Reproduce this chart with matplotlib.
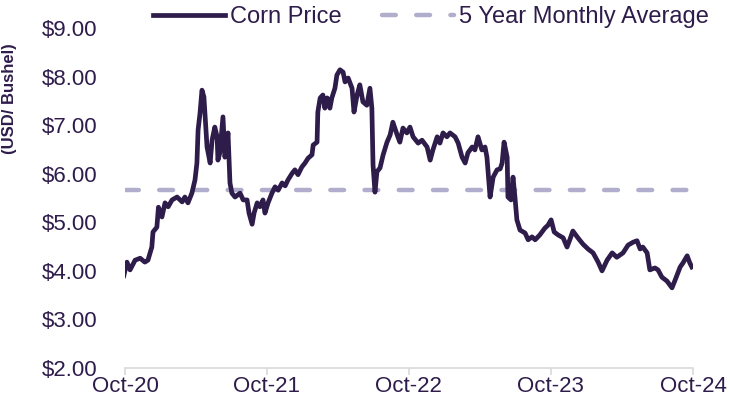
import matplotlib
matplotlib.use("Agg")
import matplotlib.pyplot as plt
import matplotlib.dates as mdates
import pandas as pd

# corn price (USD per bushel)
dates = [
    "2020-09-28", "2020-10-06", "2020-10-14", "2020-10-27", "2020-11-09", "2020-11-21", "2020-11-29",
    "2020-12-09", "2020-12-12", "2020-12-22", "2020-12-26", "2021-01-04", "2021-01-12", "2021-01-20",
    "2021-01-30", "2021-02-12", "2021-02-25", "2021-03-04", "2021-03-12", "2021-03-22", "2021-03-30",
    "2021-04-04", "2021-04-07", "2021-04-12", "2021-04-17", "2021-04-22", "2021-04-30", "2021-05-08",
    "2021-05-13", "2021-05-20", "2021-05-26", "2021-05-28", "2021-06-02", "2021-06-10", "2021-06-15",
    "2021-06-23", "2021-06-28", "2021-07-03", "2021-07-11", "2021-07-24", "2021-08-01", "2021-08-11",
    "2021-08-16", "2021-08-24", "2021-08-29", "2021-09-06", "2021-09-13", "2021-09-21", "2021-09-26",
    "2021-10-04", "2021-10-14", "2021-10-22", "2021-10-30", "2021-11-09", "2021-11-17", "2021-11-24",
    "2021-12-05", "2021-12-12", "2021-12-20", "2021-12-30", "2022-01-07", "2022-01-15", "2022-01-25",
    "2022-01-28", "2022-02-07", "2022-02-09", "2022-02-15", "2022-02-22", "2022-02-27", "2022-03-05",
    "2022-03-12", "2022-03-17", "2022-03-25", "2022-03-30", "2022-04-07", "2022-04-15", "2022-04-20",
    "2022-04-28", "2022-05-08", "2022-05-13", "2022-05-21", "2022-05-28", "2022-06-05", "2022-06-15",
    "2022-06-23", "2022-06-28", "2022-07-01", "2022-07-06", "2022-07-11", "2022-07-19", "2022-07-27",
    "2022-08-06", "2022-08-14", "2022-08-21", "2022-09-01", "2022-09-08", "2022-09-16", "2022-09-26",
    "2022-10-04", "2022-10-12", "2022-10-25", "2022-11-04", "2022-11-17", "2022-11-25", "2022-12-02",
    "2022-12-13", "2022-12-20", "2022-12-28", "2023-01-07", "2023-01-15", "2023-01-28", "2023-02-05",
    "2023-02-15", "2023-02-23", "2023-03-02", "2023-03-13", "2023-03-20", "2023-03-28", "2023-04-07",
    "2023-04-15", "2023-04-20", "2023-04-28", "2023-05-06", "2023-05-16", "2023-05-24", "2023-05-29",
    "2023-06-03", "2023-06-11", "2023-06-13", "2023-06-21", "2023-06-26", "2023-07-01", "2023-07-06",
    "2023-07-14", "2023-07-27", "2023-08-04", "2023-08-14", "2023-08-22", "2023-09-03", "2023-09-16",
    "2023-09-24", "2023-10-02", "2023-10-10", "2023-10-20", "2023-11-02", "2023-11-12", "2023-11-20",
    "2023-11-27", "2023-12-10", "2023-12-23", "2024-01-05", "2024-01-18", "2024-01-31", "2024-02-10",
    "2024-02-23", "2024-03-07", "2024-03-19", "2024-04-04", "2024-04-17", "2024-04-30", "2024-05-10",
    "2024-05-18", "2024-05-25", "2024-06-05", "2024-06-12", "2024-06-25", "2024-07-03", "2024-07-13",
    "2024-07-26", "2024-08-08", "2024-08-16", "2024-08-29", "2024-09-05", "2024-09-16", "2024-09-23",
    "2024-09-28",
]
price = [
    3.90, 4.18, 4.02, 4.22, 4.26, 4.18, 4.22,
    4.49, 4.80, 4.90, 5.31, 5.11, 5.40, 5.32,
    5.46, 5.52, 5.42, 5.52, 5.40, 5.60, 5.87,
    6.22, 6.90, 7.25, 7.72, 7.58, 6.55, 6.22,
    6.69, 6.96, 6.76, 6.28, 6.43, 7.17, 6.34,
    6.84, 5.81, 5.60, 5.52, 5.60, 5.46, 5.46,
    5.19, 4.96, 5.19, 5.40, 5.32, 5.46, 5.19,
    5.40, 5.60, 5.73, 5.66, 5.81, 5.75, 5.87,
    6.01, 6.08, 5.98, 6.14, 6.22, 6.32, 6.39,
    6.59, 6.65, 7.27, 7.56, 7.62, 7.35, 7.56,
    7.35, 7.56, 7.76, 8.03, 8.14, 8.09, 7.89,
    7.97, 7.76, 7.27, 7.62, 7.83, 7.48, 7.41,
    7.76, 7.35, 6.18, 5.62, 6.04, 6.12, 6.39,
    6.65, 6.80, 7.06, 6.80, 6.65, 6.94, 6.84,
    6.96, 6.76, 6.63, 6.69, 6.55, 6.28, 6.49,
    6.76, 6.63, 6.84, 6.76, 6.84, 6.76, 6.63,
    6.34, 6.22, 6.43, 6.55, 6.49, 6.76, 6.49,
    6.55, 6.34, 5.52, 5.93, 6.08, 6.10, 6.22,
    6.65, 6.34, 5.52, 5.46, 5.93, 5.52, 5.05,
    4.84, 4.78, 4.64, 4.70, 4.64, 4.74, 4.88,
    4.94, 5.05, 4.80, 4.74, 4.68, 4.49, 4.66,
    4.82, 4.68, 4.55, 4.45, 4.37, 4.18, 4.00,
    4.22, 4.37, 4.28, 4.37, 4.53, 4.59, 4.62,
    4.45, 4.49, 4.37, 4.02, 4.06, 4.02, 3.87,
    3.79, 3.65, 3.81, 4.08, 4.16, 4.31, 4.16,
    4.08,
]
avg_5yr = 5.66
avg_span = ["2020-10-01", "2024-10-01"]
xticks = ["2020-10-01", "2021-10-01", "2022-10-01", "2023-10-01", "2024-10-01"]
yticks = [2, 3, 4, 5, 6, 7, 8, 9]

line_col = "#2E1C4B"
avg_col = "#B1ADCC"
text_col = "#2E1C4B"

plt.rcParams["font.family"] = ["Liberation Sans", "DejaVu Sans"]

fig = plt.figure(figsize=(7.3, 4.12), dpi=100)
ax = fig.add_axes([125 / 730, 1 - 368 / 412, 568 / 730, 340 / 412])

x = pd.to_datetime(dates)
ax.plot(pd.to_datetime(avg_span), [avg_5yr, avg_5yr], color=avg_col, lw=3.2,
        dashes=(3.1, 4.6), dash_capstyle="round", label="5 Year Monthly Average", zorder=2)
ax.plot(x, price, color=line_col, lw=3.4, solid_joinstyle="round", label="Corn Price", zorder=3)

ax.set_xlim(pd.Timestamp("2020-10-01"), pd.Timestamp("2024-10-01"))
ax.set_ylim(2, 9)
ax.set_xticks(pd.to_datetime(xticks))
ax.xaxis.set_major_formatter(mdates.DateFormatter("%b-%y"))
ax.set_yticks(yticks)
ax.set_yticklabels(["${:.2f}".format(v) for v in yticks])

for s in ["top", "right", "left"]:
    ax.spines[s].set_visible(False)
ax.spines["bottom"].set_color("#D9D9D9")
ax.spines["bottom"].set_linewidth(1.2)
ax.tick_params(axis="x", colors="#D9D9D9", length=5, width=1.2, labelcolor=text_col,
               labelsize=16, pad=1)
ax.tick_params(axis="y", length=0, labelcolor=text_col, labelsize=16, pad=20)
ax.set_facecolor("white")

fig.text(10 / 730, 1 - 99 / 412, "(USD/ Bushel)", rotation=90, ha="center", va="center",
         fontsize=12, fontweight="bold", color=text_col)

handles, labels = ax.get_legend_handles_labels()
fig.legend(handles[::-1], labels[::-1], loc="center", bbox_to_anchor=(431 / 730, 1 - 17 / 412),
           ncol=2, frameon=False, fontsize=17, handlelength=3.05, columnspacing=1.7,
           handletextpad=0.2, labelcolor=text_col, borderpad=0, borderaxespad=0)

fig.savefig("out.png", dpi=100, facecolor="white")
